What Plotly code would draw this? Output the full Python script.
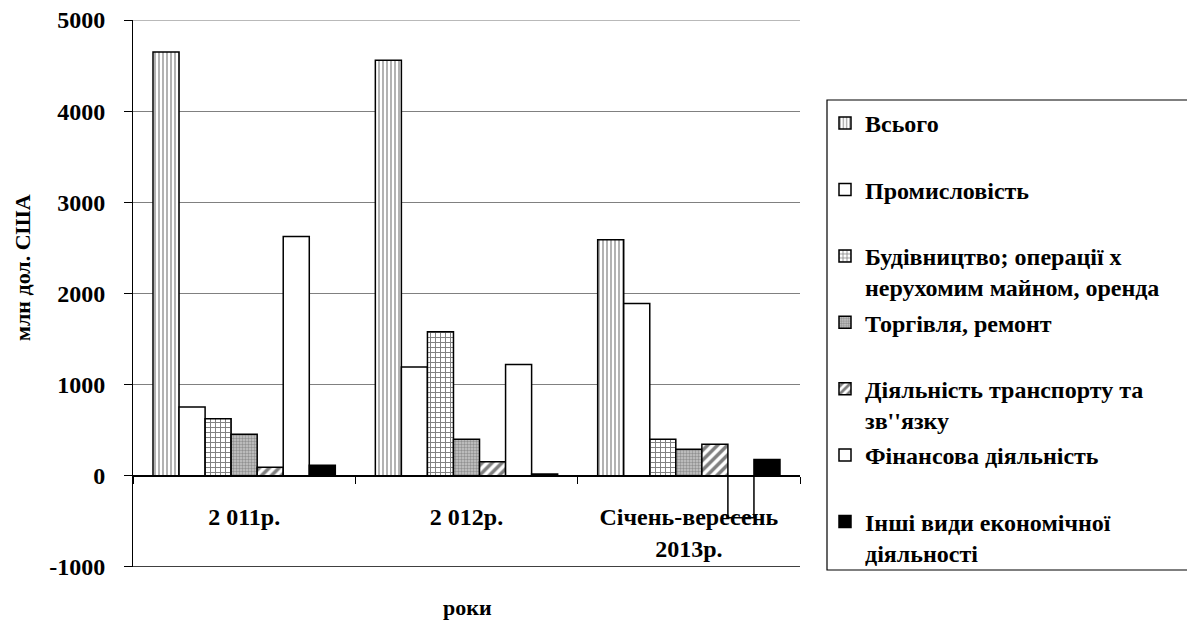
import plotly.graph_objects as go

categories = ["2 011р.", "2 012р.", "Січень-вересень<br>2013р."]

series_names = [
    "Всього",
    "Промисловість",
    "Будівництво; операції х<br>нерухомим майном, оренда",
    "Торгівля, ремонт",
    "Діяльність транспорту та<br>зв''язку",
    "Фінансова діяльність",
    "Інші види економічної<br>діяльності",
]

vsogo = [4650, 4560, 2590]
promyslovist = [755, 1195, 1890]
budivnytstvo = [625, 1580, 400]
torgivlya = [455, 400, 290]
transport = [95, 155, 345]
finansova = [2625, 1220, -460]
inshi = [115, 20, 180]

y_ticks = [-1000, 0, 1000, 2000, 3000, 4000, 5000]
y_tick_labels = ["-1000", "0", "1000", "2000", "3000", "4000", "5000"]

series_values = [vsogo, promyslovist, budivnytstvo, torgivlya, transport, finansova, inshi]

styles = [
    dict(color="white", pattern=dict(shape="|", fgcolor="black", bgcolor="white", size=4, solidity=0.3)),
    dict(color="white"),
    dict(color="white", pattern=dict(shape="+", fgcolor="black", bgcolor="white", size=5, solidity=0.35)),
    dict(color="#a8a8a8", pattern=dict(shape=".", fgcolor="#5a5a5a", bgcolor="#c8c8c8", size=3, solidity=0.5)),
    dict(color="white", pattern=dict(shape="/", fgcolor="black", bgcolor="white", size=7, solidity=0.5)),
    dict(color="white"),
    dict(color="black"),
]

FONT = "Liberation Serif"

# the page body adds an 8px offset; all target pixel positions are shifted by it
OFF = 8
L, R, T, B = 133 - OFF, 800 - OFF, 20 - OFF, 567 - OFF
W, H = 1195 - OFF, 620 - OFF
Y_MIN, Y_MAX = -1000.5, 5000.5


def px_x(x):
    return (x - OFF - L) / (R - L)


def px_y(y):
    return (B - (y - OFF)) / (B - T)


fig = go.Figure()
for name, vals, st in zip(series_names, series_values, styles):
    label = name if "<br>" in name else name + "<br> "
    fig.add_trace(go.Bar(
        x=categories, y=vals, name=label,
        legendgroup=name,
        marker=dict(line=dict(color="black", width=1.5), **st),
    ))

fig.update_layout(
    width=W, height=H,
    margin=dict(l=L, r=W - R, t=T, b=H - B, autoexpand=False),
    plot_bgcolor="white", paper_bgcolor="white",
    barmode="group", bargap=0.18, bargroupgap=0,
    font=dict(family=FONT, size=24, color="black", weight="bold"),
    legend=dict(
        x=px_x(825), y=px_y(101),
        xanchor="left", yanchor="top",
        font=dict(family=FONT, size=24, color="black", weight="bold"),
        valign="top", tracegroupgap=1,
        bgcolor="rgba(0,0,0,0)", borderwidth=0,
    ),
    showlegend=True,
)

fig.update_yaxes(
    range=[Y_MIN, Y_MAX], tickvals=y_ticks, ticktext=y_tick_labels,
    showgrid=True, gridcolor="#808080", gridwidth=1,
    zeroline=False,
    showline=True, linecolor="black", linewidth=1,
    ticks="outside", ticklen=8, tickcolor="black",
    tickfont=dict(family=FONT, size=24, color="black", weight="bold"),
    ticklabelstandoff=14, ticklabeloverflow="allow",
)

fig.update_xaxes(
    anchor="free", position=(0 - Y_MIN) / (Y_MAX - Y_MIN),
    showline=True, linecolor="black", linewidth=1.5,
    ticks="outside", ticklen=7, tickcolor="black", tickson="boundaries",
    showgrid=False,
    tickfont=dict(family=FONT, size=24, color="black", weight="bold"),
    ticklabelstandoff=20, ticklabeloverflow="allow",
)

# top gridline at 5000 and bottom border of plot area at -1000
fig.add_shape(type="line", xref="paper", yref="y", x0=0, x1=1, y0=5000, y1=5000,
              line=dict(color="#808080", width=1), layer="below")
fig.add_shape(type="line", xref="paper", yref="y", x0=0, x1=1, y0=-1000, y1=-1000,
              line=dict(color="black", width=1.5))

# legend frame
fig.add_shape(type="rect", xref="paper", yref="paper",
              x0=px_x(827), x1=px_x(1193),
              y0=px_y(570), y1=px_y(100),
              line=dict(color="black", width=1.2), fillcolor="rgba(0,0,0,0)")

fig.add_annotation(text="млн дол. США", xref="paper", yref="paper",
                   x=px_x(22), y=px_y(268), xanchor="center", yanchor="middle",
                   textangle=-90, showarrow=False,
                   font=dict(family=FONT, size=22, color="black", weight="bold"))

fig.add_annotation(text="роки", xref="paper", yref="paper",
                   x=px_x(467), y=px_y(607), xanchor="center", yanchor="middle",
                   showarrow=False,
                   font=dict(family=FONT, size=22, color="black", weight="bold"))

fig.write_html("out.html")
